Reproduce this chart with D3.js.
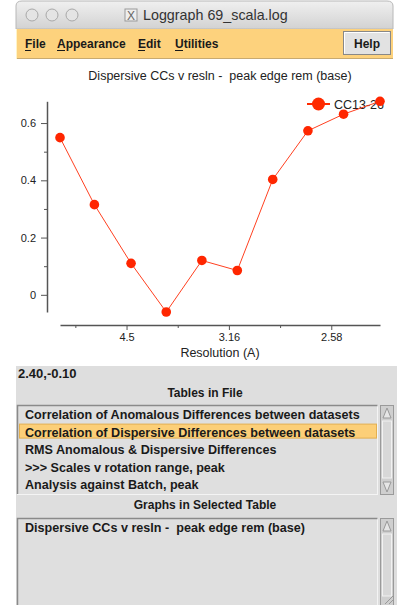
<!DOCTYPE html>
<html>
<head>
<meta charset="utf-8">
<script src="https://d3js.org/d3.v7.min.js"></script>
<style>
	body { margin: 0; background: #fff; }
	svg { display: block; font-family: "Liberation Sans", Arial, sans-serif; }
	svg text { white-space: pre; }
	.plot text { font-size: 12.5px; fill: #222; }
	.axis path, .axis line { stroke: #555; }
	.axis path { stroke-width: 1.5; }
	.panel text { font-size: 12px; font-weight: bold; fill: #1a1a1a; }
	.panel text.item { font-size: 12.6px; }
</style>
</head>
<body>
<svg id="chart" width="397" height="605"></svg>
<script>

	// 1/d^2 of each resolution bin, and the dispersive CC for it
	var invResSq = [0.0175, 0.0343, 0.0522, 0.0694, 0.0868, 0.1041, 0.1214, 0.1386, 0.1560, 0.1738];
	var ccValues = [0.549, 0.315, 0.110, -0.060, 0.120, 0.085, 0.403, 0.573, 0.631, 0.676];

	var yTicks = [0, 0.2, 0.4, 0.6];
	var yMinor = [0.1, 0.3, 0.5];
	var xTicks = [0.05, 0.1, 0.15];
	var xTickLabels = ["4.5", "3.16", "2.58"];
	var xMinor = [0.025, 0.075, 0.125];

	var seriesName = "CC13-26";
	var graphTitle = "Dispersive CCs v resln -  peak edge rem (base)";
	var menuItems = ["File", "Appearance", "Edit", "Utilities"];
	var tables = [
		"Correlation of Anomalous Differences between datasets",
		"Correlation of Dispersive Differences between datasets",
		"RMS Anomalous & Dispersive Differences",
		">>> Scales v rotation range, peak",
		"Analysis against Batch, peak"
	];
	var selectedTable = 1;
	var graphs = ["Dispersive CCs v resln -  peak edge rem (base)"];

	var svg = d3.select("#chart");
	var winL = 16, winR = 393;

	// ---- window chrome ----
	var defs = svg.append("defs");
	var tg = defs.append("linearGradient").attr("id", "tbar").attr("x1", 0).attr("x2", 0).attr("y1", 0).attr("y2", 1);
	tg.append("stop").attr("offset", "0").attr("stop-color", "#f0f0f0");
	tg.append("stop").attr("offset", "1").attr("stop-color", "#d2d2d2");

	svg.append("path")
		.attr("d", `M${winL},29 V6 Q${winL},1 ${winL + 6},1 H${winR - 6} Q${winR},1 ${winR},6 V29 Z`)
		.attr("fill", "url(#tbar)")
		.attr("stroke", "#b8b8b8");

	[32, 52, 72].forEach(cx => {
		svg.append("circle").attr("cx", cx).attr("cy", 15).attr("r", 6)
			.attr("fill", "#e4e4e4").attr("stroke", "#a8a8a8");
	});

	svg.append("rect").attr("x", 125).attr("y", 9).attr("width", 12).attr("height", 12)
		.attr("fill", "#eee").attr("stroke", "#999");
	svg.append("text").attr("x", 131).attr("y", 19.5).attr("text-anchor", "middle")
		.style("font-size", "12px").style("fill", "#666").text("X");
	svg.append("text").attr("x", 143).attr("y", 20)
		.style("font-size", "14.3px").style("fill", "#333").text("Loggraph 69_scala.log");

	// menu bar
	svg.append("rect").attr("x", winL).attr("y", 29).attr("width", winR - winL).attr("height", 30)
		.attr("fill", "#fdd27d");
	svg.append("line").attr("x1", winL).attr("x2", winR).attr("y1", 58.5).attr("y2", 58.5)
		.attr("stroke", "#c8aa70");
	svg.append("line").attr("x1", winL + 0.5).attr("x2", winL + 0.5).attr("y1", 29).attr("y2", 59)
		.attr("stroke", "#fff4c8");

	// help button
	svg.append("rect").attr("x", 343.5).attr("y", 31.5).attr("width", 47).attr("height", 23)
		.attr("fill", "#e2e2e2").attr("stroke", "#888");
	svg.append("path").attr("d", "M344.5,53.5 V32.5 H389.5").attr("fill", "none").attr("stroke", "#fff");

	var menuX = [25, 57, 138, 175];
	var menu = svg.append("g").attr("class", "panel");
	menuItems.forEach((m, i) => {
		menu.append("text").attr("x", menuX[i]).attr("y", 48).text(m);
		var w = m[0] == "F" ? 6 : m[0] == "E" ? 7 : 8;
		menu.append("line").attr("x1", menuX[i]).attr("x2", menuX[i] + w)
			.attr("y1", 50.5).attr("y2", 50.5).attr("stroke", "#1a1a1a");
	});
	menu.append("text").attr("x", 367).attr("y", 47.5).attr("text-anchor", "middle").text("Help");

	// ---- plot ----
	var plot = svg.append("g").attr("class", "plot");

	var x = d3.scaleLinear()
		.domain(d3.extent(invResSq))
		.range([60, 380]);

	var y = d3.scaleLinear()
		.domain(d3.extent(ccValues))
		.range([312, 101.3]);

	plot.append("text").attr("x", 220).attr("y", 80).attr("text-anchor", "middle").text(graphTitle);

	plot.append("g").attr("class", "axis")
		.attr("transform", "translate(47,0)")
		.call(d3.axisLeft(y).tickValues(yTicks).tickSize(6).tickSizeOuter(0).tickPadding(5)
			.tickFormat(d => d == 0 ? "0" : d3.format(".1f")(d)));
	plot.append("g").attr("class", "axis")
		.attr("transform", "translate(47,0)")
		.call(d3.axisLeft(y).tickValues(yMinor).tickSize(3).tickSizeOuter(0).tickFormat(""))
		.select(".domain").remove();

	plot.append("g").attr("class", "axis")
		.attr("transform", "translate(0,325)")
		.call(d3.axisBottom(x).tickValues(xTicks).tickSize(5).tickSizeOuter(0).tickPadding(3)
			.tickFormat((d, i) => xTickLabels[i]));
	plot.append("g").attr("class", "axis")
		.attr("transform", "translate(0,325)")
		.call(d3.axisBottom(x).tickValues(xMinor).tickSize(3).tickSizeOuter(0).tickFormat(""))
		.select(".domain").remove();

	plot.selectAll(".axis text").style("font-size", "11px").attr("fill", "#222")
		.style("font-family", "'Liberation Sans', Arial, sans-serif");

	plot.append("text").attr("x", 220).attr("y", 357).attr("text-anchor", "middle").text("Resolution (A)");

	// legend (drawn under the series, as in the original)
	var legend = plot.append("g").attr("transform", "translate(307,104)");
	legend.append("line").attr("x1", 0).attr("x2", 23).attr("stroke", "#ff2a00").attr("stroke-width", 2);
	legend.append("circle").attr("cx", 11.5).attr("r", 6.5).attr("fill", "#ff2a00");
	legend.append("text").attr("x", 27).attr("y", 4.5).text(seriesName);

	var line = d3.line()
		.x((d, i) => x(invResSq[i]))
		.y(d => y(d));

	plot.append("path")
		.datum(ccValues)
		.attr("d", line)
		.attr("fill", "none")
		.attr("stroke", "#ff4020")
		.attr("stroke-width", 1);

	plot.selectAll(".pt")
		.data(ccValues)
		.enter().append("circle")
		.attr("class", "pt")
		.attr("cx", (d, i) => x(invResSq[i]))
		.attr("cy", d => y(d))
		.attr("r", 4.8)
		.attr("fill", "#ff2600");

	// ---- lower panel ----
	var panel = svg.append("g").attr("class", "panel");
	panel.append("rect").attr("x", winL).attr("y", 366).attr("width", 397 - winL).attr("height", 239)
		.attr("fill", "#dedede");
	panel.append("text").attr("x", 18).attr("y", 378).style("font-size", "13px").text("2.40,-0.10");
	panel.append("text").attr("x", 205).attr("y", 397).attr("text-anchor", "middle").text("Tables in File");
	panel.append("text").attr("x", 205).attr("y", 509).attr("text-anchor", "middle").text("Graphs in Selected Table");

	function listBox(top, bottom, items, selected) {
		panel.append("rect").attr("x", 17.5).attr("y", top + 0.5).attr("width", 360).attr("height", bottom - top)
			.attr("fill", "#dfdfdf").attr("stroke", "#f4f4f4");
		panel.append("path").attr("d", `M17.5,${bottom} V${top + 0.5} H377.5`)
			.attr("fill", "none").attr("stroke", "#8a8a8a").attr("stroke-width", 1.5);
		items.forEach((t, i) => {
			var cy = top + 9.5 + i * 17.6;
			if (i == selected) {
				panel.append("rect").attr("x", 19.5).attr("y", cy - 8).attr("width", 357).attr("height", 14)
					.attr("fill", "#fccf78").attr("stroke", "#e3b050");
			}
			panel.append("text").attr("class", "item").attr("x", 25).attr("y", cy + 4.5).text(t);
		});

		// scrollbar
		var sb = panel.append("g");
		sb.append("rect").attr("x", 380.5).attr("y", top + 0.5).attr("width", 13).attr("height", bottom - top)
			.attr("fill", "#cfcfcf").attr("stroke", "#9a9a9a");
		sb.append("rect").attr("x", 382.5).attr("y", top + 16).attr("width", 9).attr("height", bottom - top - 32)
			.attr("fill", "#d8d8d8").attr("stroke", "#f2f2f2");
		sb.append("path").attr("d", `M383,${top + 13} L387,${top + 3} L391,${top + 13} Z`)
			.attr("fill", "#e6e6e6").attr("stroke", "#999");
		if (bottom < 600) {
			sb.append("path").attr("d", `M383,${bottom - 12} L387,${bottom - 2} L391,${bottom - 12} Z`)
				.attr("fill", "#e6e6e6").attr("stroke", "#999");
		}
	}

	listBox(405, 494, tables, selectedTable);
	listBox(518, 612, graphs, -1);

	// resize grip
	[0, 4, 8].forEach(o => {
		panel.append("line").attr("x1", 393 - o).attr("y1", 604).attr("x2", 393).attr("y2", 604 - o)
			.attr("stroke", "#999");
	});

</script>
</body>
</html>
